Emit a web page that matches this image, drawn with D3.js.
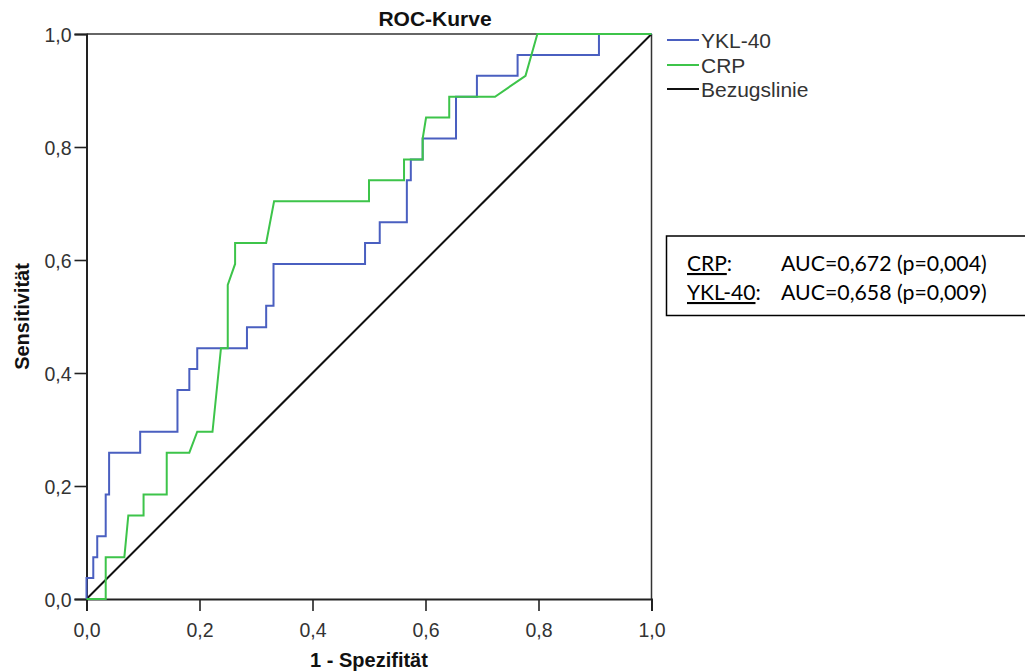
<!DOCTYPE html>
<html>
<head>
<meta charset="utf-8">
<script src="https://cdn.jsdelivr.net/npm/d3@7"></script>
<style>
  html, body { margin: 0; padding: 0; background: #fff; }
  svg { display: block; }
</style>
</head>
<body>
<svg id="chart" width="1025" height="672"></svg>
<script>
// ---- data ----
const title = "ROC-Kurve";
const xTitle = "1 - Spezifität";
const yTitle = "Sensitivität";
const tickValues = [0, 0.2, 0.4, 0.6, 0.8, 1.0];

const ykl40Fpr = [0, 0, 0.012, 0.012, 0.019, 0.019, 0.034, 0.034, 0.040, 0.040, 0.095, 0.095,
  0.161, 0.161, 0.182, 0.182, 0.196, 0.196, 0.284, 0.284, 0.318, 0.318, 0.331, 0.331,
  0.493, 0.493, 0.519, 0.519, 0.567, 0.567, 0.574, 0.574, 0.595, 0.595, 0.654, 0.654,
  0.691, 0.691, 0.763, 0.763, 0.907, 0.907, 1];
const ykl40Tpr = [0, 0.037, 0.037, 0.074, 0.074, 0.111, 0.111, 0.185, 0.185, 0.259, 0.259, 0.296,
  0.296, 0.370, 0.370, 0.407, 0.407, 0.444, 0.444, 0.481, 0.481, 0.519, 0.519, 0.593,
  0.593, 0.630, 0.630, 0.667, 0.667, 0.741, 0.741, 0.778, 0.778, 0.815, 0.815, 0.889,
  0.889, 0.926, 0.926, 0.963, 0.963, 1, 1];

const crpFpr = [0, 0.034, 0.034, 0.067, 0.074, 0.101, 0.101, 0.142, 0.142, 0.182,
  0.196, 0.223, 0.238, 0.250, 0.250, 0.263, 0.263, 0.318, 0.332, 0.500,
  0.500, 0.562, 0.562, 0.595, 0.595, 0.601, 0.642, 0.642, 0.723, 0.777, 0.798, 1];
const crpTpr = [0, 0, 0.074, 0.074, 0.148, 0.148, 0.185, 0.185, 0.259, 0.259,
  0.296, 0.296, 0.444, 0.444, 0.556, 0.593, 0.630, 0.630, 0.704, 0.704,
  0.741, 0.741, 0.778, 0.778, 0.815, 0.852, 0.852, 0.889, 0.889, 0.926, 1, 1];

const refFpr = [0, 1];
const refTpr = [0, 1];

const seriesNames = ["YKL-40", "CRP", "Bezugslinie"];
const seriesColors = ["#4a5fc0", "#3dc44a", "#111111"];

const aucLabels = ["CRP", "YKL-40"];
const aucTexts = ["AUC=0,672 (p=0,004)", "AUC=0,658 (p=0,009)"];

// ---- layout ----
const svg = d3.select("#chart");
const plot = { left: 86.5, right: 651.5, top: 34, bottom: 599 };

const x = d3.scaleLinear().domain([0, 1]).range([plot.left, plot.right]);
const y = d3.scaleLinear().domain([0, 1]).range([plot.bottom, plot.top]);
const fmt = v => d3.format(".1f")(v).replace(".", ",");
const font = "'Liberation Sans', Arial, sans-serif";

svg.append("rect").attr("width", 1025).attr("height", 672).attr("fill", "#fff");

// frame (top + right)
svg.append("line").attr("x1", x(0)).attr("x2", x(1)).attr("y1", y(1)).attr("y2", y(1))
  .attr("stroke", "#333").attr("stroke-width", 1.5);
svg.append("line").attr("x1", x(1)).attr("x2", x(1)).attr("y1", y(0)).attr("y2", y(1))
  .attr("stroke", "#333").attr("stroke-width", 1.5);

// axes
const xAxis = d3.axisBottom(x).tickValues(tickValues).tickFormat(fmt).tickSizeOuter(0).tickSize(12).tickPadding(12);
const yAxis = d3.axisLeft(y).tickValues(tickValues).tickFormat(fmt).tickSizeOuter(0).tickSize(12).tickPadding(3);

const gx = svg.append("g").attr("transform", `translate(0,${plot.bottom})`).call(xAxis);
const gy = svg.append("g").attr("transform", `translate(${plot.left},0)`).call(yAxis);
[gx, gy].forEach(g => {
  g.select(".domain").attr("stroke", "#222").attr("stroke-width", 2);
  g.selectAll(".tick line").attr("stroke", "#222").attr("stroke-width", 1.6);
  g.selectAll(".tick text").attr("font-family", font).attr("font-size", 19.5).attr("fill", "#333");
});
gy.selectAll(".tick text").attr("dy", "0.36em");

// lines
const line = d3.line().x(d => x(d[0])).y(d => y(d[1]));
const toPts = (xs, ys) => xs.map((v, i) => [v, ys[i]]);

svg.append("path").datum(toPts(refFpr, refTpr)).attr("d", line)
  .attr("fill", "none").attr("stroke", seriesColors[2]).attr("stroke-width", 2);
svg.append("path").datum(toPts(ykl40Fpr, ykl40Tpr)).attr("d", line)
  .attr("fill", "none").attr("stroke", seriesColors[0]).attr("stroke-width", 2)
  .attr("stroke-linejoin", "miter");
svg.append("path").datum(toPts(crpFpr, crpTpr)).attr("d", line)
  .attr("fill", "none").attr("stroke", seriesColors[1]).attr("stroke-width", 2)
  .attr("stroke-linejoin", "miter");

// title
svg.append("text").attr("x", 435).attr("y", 26).attr("text-anchor", "middle")
  .attr("font-family", font).attr("font-weight", "bold").attr("font-size", 21)
  .attr("fill", "#111").text(title);

// axis titles
svg.append("text").attr("x", (plot.left + plot.right) / 2).attr("y", 667)
  .attr("text-anchor", "middle").attr("font-family", font).attr("font-weight", "bold")
  .attr("font-size", 20).attr("fill", "#111").text(xTitle);
svg.append("text").attr("transform", `translate(29,${(plot.top + plot.bottom) / 2}) rotate(-90)`)
  .attr("text-anchor", "middle").attr("font-family", font).attr("font-weight", "bold")
  .attr("font-size", 20).attr("fill", "#111").text(yTitle);

// legend
const legY = [40, 65, 89];
seriesNames.forEach((name, i) => {
  svg.append("line").attr("x1", 667).attr("x2", 699).attr("y1", legY[i]).attr("y2", legY[i])
    .attr("stroke", seriesColors[i]).attr("stroke-width", 2);
  svg.append("text").attr("x", 701).attr("y", legY[i] + 7.5).attr("font-family", font)
    .attr("font-size", 21).attr("fill", "#333").text(name);
});

// AUC box
svg.append("rect").attr("x", 666.5).attr("y", 236).attr("width", 362).attr("height", 79.5)
  .attr("fill", "#fff").attr("stroke", "#000").attr("stroke-width", 1.5);
const boxFont = "Lato, 'Open Sans', sans-serif";
const boxY = [271, 300];
aucLabels.forEach((lab, i) => {
  const t = svg.append("text").attr("x", 687).attr("y", boxY[i]).attr("font-family", boxFont)
    .attr("font-size", 21).attr("fill", "#000");
  t.append("tspan").attr("text-decoration", "underline").text(lab);
  t.append("tspan").text(":");
  svg.append("text").attr("x", 781).attr("y", boxY[i]).attr("font-family", boxFont)
    .attr("font-size", 21.3).attr("fill", "#000").text(aucTexts[i]);
});
</script>
</body>
</html>
